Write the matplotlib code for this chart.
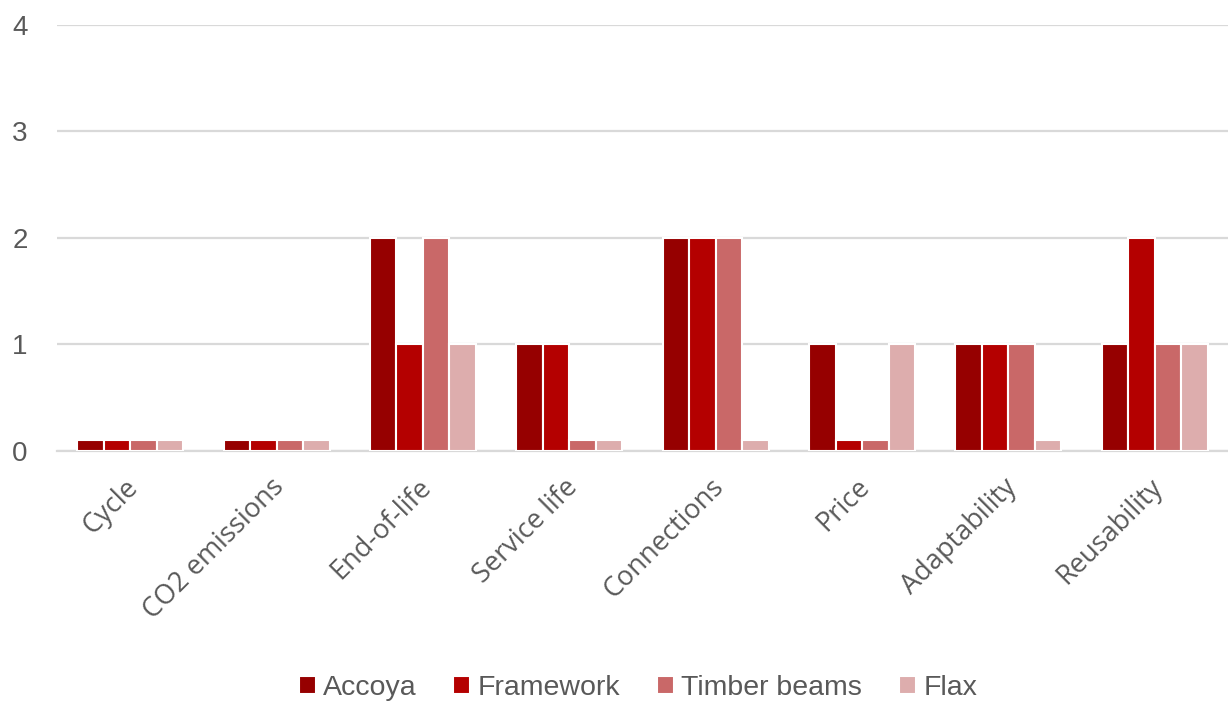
import numpy as np
import matplotlib.pyplot as plt
import matplotlib.transforms as mtransforms

plt.rcParams["font.family"] = ["Liberation Sans", "DejaVu Sans"]

# ── DATA ──────────────────────────────────────────────────────────────────────
criteria = ["Cycle", "CO2 emissions", "End-of-life", "Service life",
            "Connections", "Price", "Adaptability", "Reusability"]
accoya = [0.1, 0.1, 2, 1, 2, 1, 1, 1]
framework = [0.1, 0.1, 1, 1, 2, 0.1, 1, 2]
timber_beams = [0.1, 0.1, 2, 0.1, 2, 0.1, 1, 1]
flax = [0.1, 0.1, 1, 0.1, 0.1, 1, 0.1, 1]

series = [("Accoya", accoya, "#960000"),
          ("Framework", framework, "#B40000"),
          ("Timber beams", timber_beams, "#C96868"),
          ("Flax", flax, "#DDADAD")]

TEXT = "#595959"
GRID = "#D9D9D9"

fig = plt.figure(figsize=(12.28, 7.04), dpi=100)
ax = fig.add_axes([0.0464, 0.3594, 0.9536, 0.6051])

x = np.arange(len(criteria))
w = 0.181
for i, (name, vals, col) in enumerate(series):
    ax.bar(x + (i - 1.5) * w, vals, width=w, color=col, edgecolor="white",
           linewidth=1.5, label=name, zorder=3)

ax.set_xlim(-0.5, len(criteria) - 0.5)
ax.set_ylim(0, 4)
ax.set_yticks([0, 1, 2, 3, 4])
ax.yaxis.grid(True, color=GRID, linewidth=1.6, zorder=0)
ax.set_axisbelow(True)
for s in ["top", "right", "left"]:
    ax.spines[s].set_visible(False)
ax.spines["bottom"].set_color(GRID)
ax.spines["bottom"].set_linewidth(1.6)
ax.tick_params(axis="both", length=0, colors=TEXT)
ax.tick_params(axis="y", labelsize=20, pad=21)
ax.set_xticks(x)
ax.set_xticklabels(criteria, rotation=45, ha="right", rotation_mode="anchor",
                   family=["Open Sans", "DejaVu Sans"], fontsize=19.5)
ax.tick_params(axis="x", pad=16)

# nudge the slanted category labels a little to the left
shift = mtransforms.ScaledTranslation(-6 / 100, 0, fig.dpi_scale_trans)
for lbl in ax.get_xticklabels():
    lbl.set_transform(lbl.get_transform() + shift)

leg = fig.legend(loc="center", bbox_to_anchor=(0.5195, 0.023), ncol=4,
                 frameon=False, fontsize=20.5, handlelength=0.6,
                 handleheight=0.6, handletextpad=0.25, columnspacing=1.3)
for t in leg.get_texts():
    t.set_color(TEXT)

fig.savefig("out.png", dpi=100)
